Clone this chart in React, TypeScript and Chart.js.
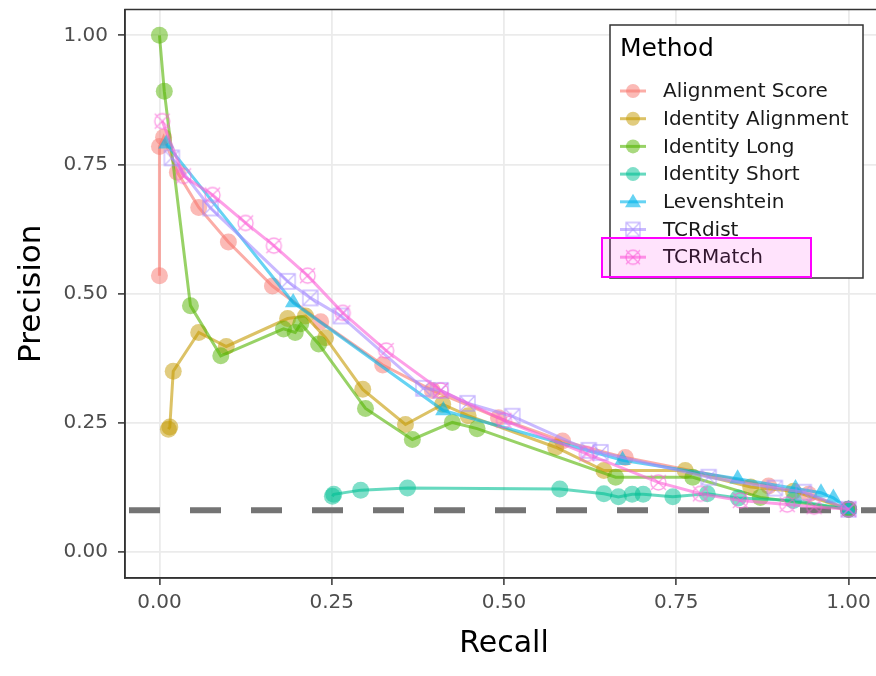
import React, { useEffect, useRef } from 'react';
import { Chart, registerables } from 'chart.js';

Chart.register(...registerables);

const FONT = '"DejaVu Sans", "Liberation Sans", sans-serif';

// ---------- data ----------
const methods = ['Alignment Score', 'Identity Alignment', 'Identity Long', 'Identity Short', 'Levenshtein', 'TCRdist', 'TCRMatch'];
const methodColors = ['248,118,109', '196,154,0', '83,180,0', '0,192,148', '0,182,235', '165,138,255', '251,97,215'];

const alignmentScoreRecall = [0, 0, 0.006, 0.026, 0.057, 0.10, 0.164, 0.234, 0.324, 0.396, 0.492, 0.585, 0.676, 0.884, 0.942, 1.0];
const alignmentScorePrecision = [0.535, 0.785, 0.803, 0.735, 0.667, 0.60, 0.515, 0.446, 0.362, 0.313, 0.26, 0.215, 0.183, 0.128, 0.112, 0.083];

const identityAlignmentRecall = [0.013, 0.015, 0.02, 0.057, 0.097, 0.186, 0.212, 0.241, 0.295, 0.357, 0.411, 0.448, 0.575, 0.645, 0.763, 0.858, 0.92, 1.0];
const identityAlignmentPrecision = [0.238, 0.242, 0.35, 0.425, 0.398, 0.452, 0.457, 0.415, 0.315, 0.247, 0.286, 0.264, 0.203, 0.158, 0.158, 0.126, 0.118, 0.083];

const identityLongRecall = [0, 0.007, 0.045, 0.089, 0.18, 0.197, 0.205, 0.231, 0.299, 0.367, 0.425, 0.461, 0.662, 0.774, 0.872, 1.0];
const identityLongPrecision = [1.0, 0.892, 0.477, 0.38, 0.432, 0.425, 0.442, 0.403, 0.278, 0.218, 0.251, 0.239, 0.145, 0.145, 0.106, 0.083];

const identityShortRecall = [0.251, 0.253, 0.292, 0.36, 0.581, 0.645, 0.666, 0.686, 0.702, 0.745, 0.795, 0.84, 0.92, 1.0];
const identityShortPrecision = [0.108, 0.112, 0.12, 0.124, 0.122, 0.113, 0.107, 0.112, 0.112, 0.107, 0.113, 0.105, 0.1, 0.083];

const levenshteinRecall = [0.01, 0.194, 0.412, 0.672, 0.839, 0.923, 0.96, 0.978, 1.0];
const levenshteinPrecision = [0.79, 0.483, 0.274, 0.178, 0.142, 0.123, 0.115, 0.105, 0.083];

const tcrdistRecall = [0.018, 0.074, 0.186, 0.219, 0.263, 0.383, 0.408, 0.447, 0.512, 0.623, 0.64, 0.797, 0.893, 0.935, 1.0];
const tcrdistPrecision = [0.763, 0.666, 0.524, 0.492, 0.457, 0.317, 0.313, 0.288, 0.263, 0.197, 0.193, 0.145, 0.124, 0.116, 0.083];

const tcrmatchRecall = [0.004, 0.035, 0.077, 0.125, 0.166, 0.215, 0.266, 0.329, 0.408, 0.5, 0.62, 0.724, 0.785, 0.843, 0.911, 0.95, 1.0];
const tcrmatchPrecision = [0.834, 0.728, 0.691, 0.637, 0.593, 0.535, 0.463, 0.39, 0.313, 0.255, 0.19, 0.135, 0.113, 0.1, 0.092, 0.088, 0.083];

const baselinePrecision = 0.081;
const xTicks = [0, 0.25, 0.5, 0.75, 1.0];
const yTicks = [0, 0.25, 0.5, 0.75, 1.0];
const axisMin = -0.05;
const axisMax = 1.05;

const seriesRecall = [alignmentScoreRecall, identityAlignmentRecall, identityLongRecall, identityShortRecall, levenshteinRecall, tcrdistRecall, tcrmatchRecall];
const seriesPrecision = [alignmentScorePrecision, identityAlignmentPrecision, identityLongPrecision, identityShortPrecision, levenshteinPrecision, tcrdistPrecision, tcrmatchPrecision];
const seriesShape = ['circle', 'circle', 'circle', 'circle', 'triangle', 'squareCross', 'circleCross'];

function makeMarker(kind: string, rgb: string, size: number): HTMLCanvasElement {
  const c = document.createElement('canvas');
  const pad = 3;
  c.width = size + pad * 2;
  c.height = size + pad * 2;
  const ctx = c.getContext('2d')!;
  const h = size / 2;
  const cx = c.width / 2;
  const cy = c.height / 2;
  ctx.strokeStyle = `rgba(${rgb},0.6)`;
  ctx.lineWidth = 1.3;
  ctx.beginPath();
  if (kind === 'squareCross') {
    ctx.rect(cx - h, cy - h, size, size);
  } else {
    ctx.arc(cx, cy, h, 0, Math.PI * 2);
  }
  ctx.moveTo(cx - h, cy - h);
  ctx.lineTo(cx + h, cy + h);
  ctx.moveTo(cx + h, cy - h);
  ctx.lineTo(cx - h, cy + h);
  ctx.stroke();
  return c;
}

export default function App() {
  const canvasRef = useRef<HTMLCanvasElement | null>(null);

  useEffect(() => {
    if (!canvasRef.current) return;
    const markers: any[] = seriesShape.map((s, i) =>
      s === 'squareCross' || s === 'circleCross' ? makeMarker(s, methodColors[i], 15) : s
    );
    const legendMarkers: any[] = seriesShape.map((s, i) =>
      s === 'squareCross' || s === 'circleCross' ? makeMarker(s, methodColors[i], 14) : s
    );

    const datasets: any[] = methods.map((m, i) => {
      const shape = seriesShape[i];
      return {
        label: m,
        data: seriesRecall[i].map((x, j) => ({ x, y: seriesPrecision[i][j] })),
        showLine: true,
        borderColor: `rgba(${methodColors[i]},0.6)`,
        borderWidth: 3,
        backgroundColor: `rgba(${methodColors[i]},0.5)`,
        pointStyle: markers[i],
        pointRadius: shape === 'triangle' ? 9.5 : 8.5,
        pointBackgroundColor: `rgba(${methodColors[i]},${shape === 'triangle' ? 0.6 : 0.5})`,
        pointBorderWidth: 0,
        pointBorderColor: 'rgba(0,0,0,0)',
        order: 10 - i,
      };
    });
    datasets.push({
      label: 'baseline',
      data: [
        { x: axisMin, y: baselinePrecision },
        { x: axisMax, y: baselinePrecision },
      ],
      showLine: true,
      borderColor: '#747474',
      borderWidth: 6,
      borderDash: [31, 30],
      borderDashOffset: 57,
      pointRadius: 0,
      order: 100,
    });

    const framePlugin = {
      id: 'frameAndLegend',
      afterDatasetsDraw(chart: any) {
        const { ctx, chartArea } = chart;
        ctx.save();
        ctx.strokeStyle = '#333333';
        ctx.lineWidth = 1.5;
        ctx.strokeRect(chartArea.left, chartArea.top, chartArea.right - chartArea.left, chartArea.bottom - chartArea.top);
        ctx.restore();
      },
      afterDraw(chart: any) {
        const ctx = chart.ctx as CanvasRenderingContext2D;
        ctx.save();
        ctx.fillStyle = '#ffffff';
        ctx.fillRect(610, 25, 253, 253);
        ctx.strokeStyle = '#333333';
        ctx.lineWidth = 1.5;
        ctx.strokeRect(610, 25, 253, 253);
        ctx.fillStyle = '#000000';
        ctx.font = `25px ${FONT}`;
        ctx.textBaseline = 'middle';
        ctx.textAlign = 'left';
        ctx.fillText('Method', 620, 49);
        methods.forEach((m, i) => {
          const y = 91 + i * 27.7;
          const rgb = methodColors[i];
          ctx.strokeStyle = `rgba(${rgb},0.6)`;
          ctx.lineWidth = 3;
          ctx.beginPath();
          ctx.moveTo(620, y);
          ctx.lineTo(646, y);
          ctx.stroke();
          const shape = seriesShape[i];
          if (shape === 'circle') {
            ctx.fillStyle = `rgba(${rgb},0.5)`;
            ctx.beginPath();
            ctx.arc(633, y, 7, 0, Math.PI * 2);
            ctx.fill();
          } else if (shape === 'triangle') {
            ctx.fillStyle = `rgba(${rgb},0.6)`;
            ctx.beginPath();
            ctx.moveTo(633, y - 8);
            ctx.lineTo(641, y + 5.5);
            ctx.lineTo(625, y + 5.5);
            ctx.closePath();
            ctx.fill();
          } else {
            const img = legendMarkers[i] as HTMLCanvasElement;
            ctx.drawImage(img, 633 - img.width / 2, y - img.height / 2);
          }
          ctx.fillStyle = '#1a1a1a';
          ctx.font = `20px ${FONT}`;
          ctx.fillText(m, 663, y + 1);
        });
        ctx.fillStyle = 'rgba(255,0,230,0.11)';
        ctx.fillRect(602, 238, 209, 39);
        ctx.strokeStyle = '#ff00ff';
        ctx.lineWidth = 2;
        ctx.strokeRect(602, 238, 209, 39);
        ctx.restore();
      },
    };

    const chart = new Chart(canvasRef.current, {
      type: 'scatter',
      data: { datasets },
      options: {
        animation: false,
        responsive: false,
        events: [],
        layout: { padding: { left: 0, right: 17, top: 8, bottom: 0 } },
        plugins: {
          legend: { display: false },
          tooltip: { enabled: false },
        },
        scales: {
          x: {
            type: 'linear',
            min: axisMin,
            max: axisMax,
            afterBuildTicks: (s: any) => {
              s.ticks = xTicks.map((v) => ({ value: v }));
            },
            afterFit: (s: any) => {
              s.height = 98;
              s.paddingLeft = 0;
              s.paddingRight = 0;
            },
            grid: {
              color: '#ebebeb',
              lineWidth: 1.8,
              tickColor: '#333333',
              tickLength: 7,
              tickWidth: 1.5,
            },
            border: { display: true, color: '#333333', width: 1.5 },
            ticks: {
              color: '#4d4d4d',
              font: { family: FONT, size: 20 },
              padding: 6,
              maxRotation: 0,
              callback: (v: any) => Number(v).toFixed(2),
            },
            title: {
              display: true,
              text: 'Recall',
              color: '#000000',
              font: { family: FONT, size: 30 },
              padding: { top: 0, bottom: 14 },
            },
          },
          y: {
            type: 'linear',
            min: axisMin,
            max: axisMax,
            afterBuildTicks: (s: any) => {
              s.ticks = yTicks.map((v) => ({ value: v }));
            },
            afterFit: (s: any) => {
              s.width = 125;
              s.paddingTop = 0;
              s.paddingBottom = 0;
            },
            grid: {
              color: '#ebebeb',
              lineWidth: 1.8,
              tickColor: '#333333',
              tickLength: 7,
              tickWidth: 1.5,
            },
            border: { display: true, color: '#333333', width: 1.5 },
            ticks: {
              color: '#4d4d4d',
              font: { family: FONT, size: 20 },
              padding: 10,
              callback: (v: any) => Number(v).toFixed(2),
            },
            title: {
              display: true,
              text: 'Precision',
              color: '#000000',
              font: { family: FONT, size: 31 },
              padding: { top: 13, bottom: 0 },
            },
          },
        },
      },
      plugins: [framePlugin],
    } as any);

    return () => chart.destroy();
  }, []);

  return (
    <div style={{ position: 'fixed', left: 0, top: 0, width: 876, height: 676, overflow: 'hidden', background: '#ffffff' }}>
      <canvas ref={canvasRef} width={900} height={676} style={{ display: 'block', width: 900, height: 676 }} />
    </div>
  );
}
